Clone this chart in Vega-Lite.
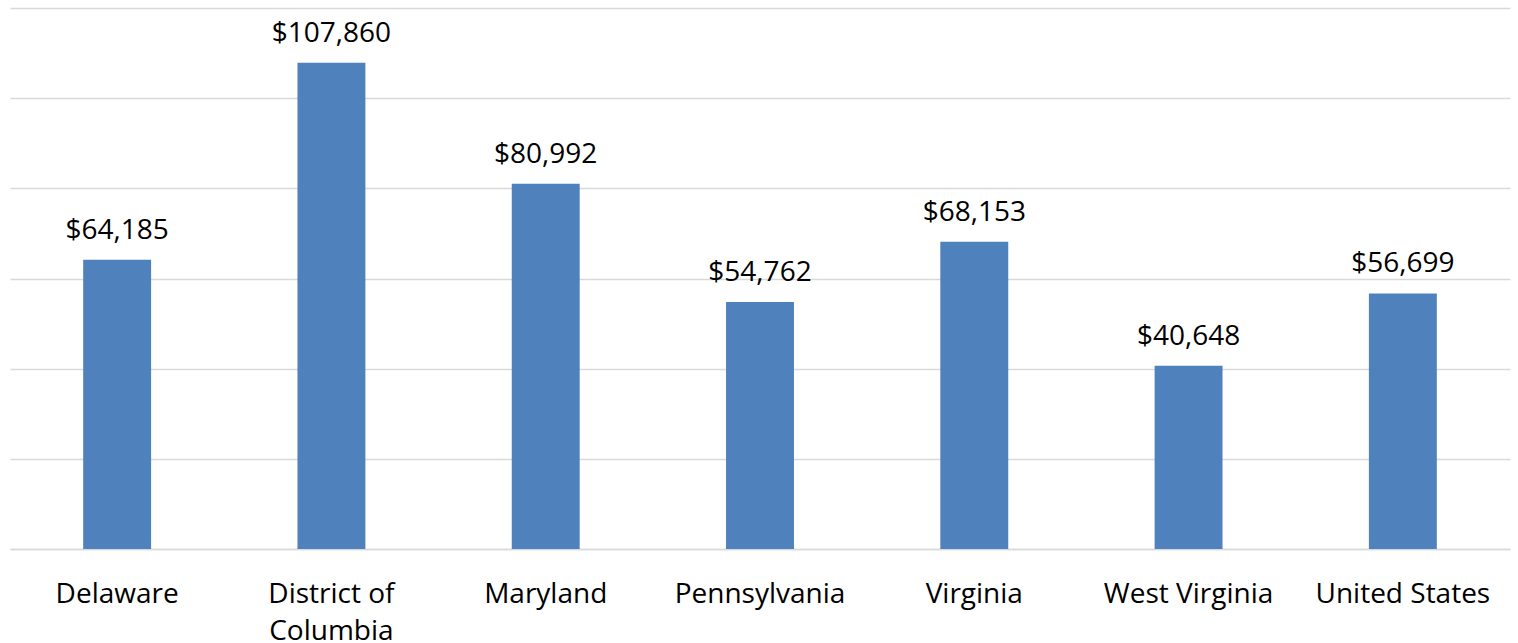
{
  "$schema": "https://vega.github.io/schema/vega-lite/v6.json",
  "width": 1500,
  "height": 541,
  "autosize": {"type": "none"},
  "padding": {"left": 10, "top": 8, "right": 8, "bottom": 94},
  "background": "white",
  "config": {"view": {"stroke": null}, "font": "Open Sans"},
  "data": {
    "values": [
      {"region": "Delaware", "income": 64185, "label": "$64,185"},
      {"region": "District of Columbia", "income": 107860, "label": "$107,860"},
      {"region": "Maryland", "income": 80992, "label": "$80,992"},
      {"region": "Pennsylvania", "income": 54762, "label": "$54,762"},
      {"region": "Virginia", "income": 68153, "label": "$68,153"},
      {"region": "West Virginia", "income": 40648, "label": "$40,648"},
      {"region": "United States", "income": 56699, "label": "$56,699"}
    ]
  },
  "encoding": {
    "x": {
      "field": "region",
      "type": "nominal",
      "sort": null,
      "scale": {"paddingInner": 0.683, "paddingOuter": 0.3415},
      "axis": {
        "title": null,
        "labelAngle": 0,
        "labelFont": "Open Sans",
        "labelFontSize": 28,
        "labelColor": "#000000",
        "labelLineHeight": 37,
        "labelPadding": 31,
        "ticks": false,
        "domainColor": "#d9d9d9",
        "domainWidth": 1.5,
        "labelExpr": "datum.label == 'District of Columbia' ? ['District of', 'Columbia'] : datum.label"
      }
    },
    "y": {
      "field": "income",
      "type": "quantitative",
      "scale": {"domain": [0, 120000]},
      "axis": {
        "title": null,
        "labels": false,
        "ticks": false,
        "domain": false,
        "grid": true,
        "gridColor": "#d9d9d9",
        "gridWidth": 1.5,
        "values": [0, 20000, 40000, 60000, 80000, 100000, 120000]
      }
    }
  },
  "layer": [
    {"mark": {"type": "bar", "color": "#4f81bd"}},
    {
      "mark": {"type": "text", "baseline": "alphabetic", "dy": -21, "font": "Open Sans", "fontSize": 28, "color": "#000000"},
      "encoding": {"text": {"field": "label"}}
    }
  ]
}
